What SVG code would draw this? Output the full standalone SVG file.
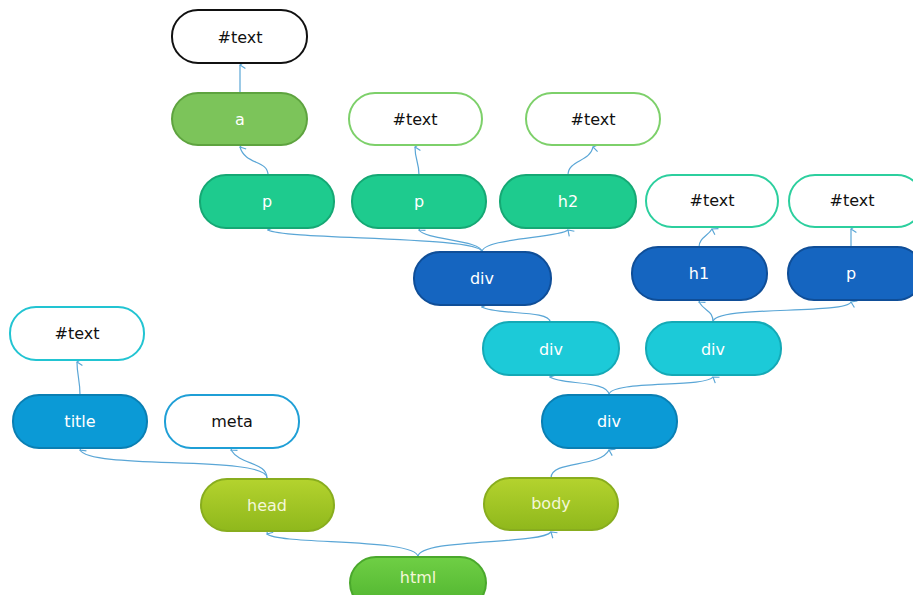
<svg xmlns="http://www.w3.org/2000/svg" width="913" height="595" viewBox="0 0 913 595">
<defs>
<marker id="arr" viewBox="0 0 10 10" refX="5" refY="1" markerWidth="9" markerHeight="9" orient="auto-start-reverse" markerUnits="userSpaceOnUse">
<path d="M1,7 L5,1 L9,7" fill="none" stroke="#5aa6d6" stroke-width="1.3"/>
</marker>
<linearGradient id="gYel" x1="0" y1="0" x2="0" y2="1">
<stop offset="0" stop-color="#b4d32e"/><stop offset="1" stop-color="#8fb81c"/>
</linearGradient>
<linearGradient id="gGrn" x1="0" y1="0" x2="0" y2="1">
<stop offset="0" stop-color="#6fcf45"/><stop offset="1" stop-color="#4fb32e"/>
</linearGradient>
</defs>
<style>
.n{stroke-width:2}
.t{font-family:"DejaVu Sans","Liberation Sans",sans-serif;font-size:16px;text-anchor:middle;dominant-baseline:central}
.w{fill:#ffffff}
.k{fill:#111111}
.y{fill:#f4f7d8}
#edges path{fill:none;stroke:#5aa6d6;stroke-width:1.2;marker-end:url(#arr)}
</style>
<g id="edges">
<path d="M418,557 C418,538 280,545 267,534"/>
<path d="M418,557 C418,538 540,545 551,532"/>
<path d="M267,478 C267,455 90,470 80,450"/>
<path d="M267,478 C267,462 240,465 231,450"/>
<path d="M80,395 C80,380 77,375 77,362"/>
<path d="M551,478 C551,460 600,468 609,450"/>
<path d="M609,395 C609,380 560,385 550,377"/>
<path d="M609,395 C609,380 705,388 713,377"/>
<path d="M550,322 C550,310 495,315 482,307"/>
<path d="M713,322 C713,310 705,312 699,302"/>
<path d="M713,322 C713,305 845,315 851,302"/>
<path d="M699,247 C699,238 708,236 712,229"/>
<path d="M851,247 C851,238 851,236 851,229"/>
<path d="M482,252 C482,236 285,240 268,230"/>
<path d="M482,252 C482,240 425,240 419,230"/>
<path d="M482,252 C482,238 560,238 568,230"/>
<path d="M268,175 C268,160 245,165 240,147"/>
<path d="M419,175 C419,162 415,160 415,147"/>
<path d="M568,175 C568,160 590,162 593,147"/>
<path d="M240,93 C240,80 240,78 240,65"/>
</g>
<g id="n-html"><rect class="n" x="350" y="557" width="136" height="52" rx="26" fill="url(#gGrn)" stroke="#4aa82c"/><text class="t y" x="418" y="577">html</text></g>
<g id="n-head"><rect class="n" x="201" y="479" width="133" height="52" rx="26" fill="url(#gYel)" stroke="#88ad1e"/><text class="t y" x="267" y="505">head</text></g>
<g id="n-body"><rect class="n" x="484" y="478" width="134" height="52" rx="26" fill="url(#gYel)" stroke="#88ad1e"/><text class="t y" x="551" y="503">body</text></g>
<g id="n-title"><rect class="n" x="13" y="395" width="134" height="53" rx="26" fill="#0b9ad6" stroke="#0a7fb3"/><text class="t w" x="80" y="421">title</text></g>
<g id="n-meta"><rect class="n" x="165" y="395" width="134" height="53" rx="26" fill="#ffffff" stroke="#1f9fd6"/><text class="t k" x="232" y="421">meta</text></g>
<g id="n-text-title"><rect class="n" x="10" y="307" width="134" height="53" rx="26" fill="#ffffff" stroke="#22c4d2"/><text class="t k" x="77" y="333">#text</text></g>
<g id="n-div1"><rect class="n" x="542" y="395" width="135" height="53" rx="26" fill="#0b9ad6" stroke="#0a7fb3"/><text class="t w" x="609" y="421">div</text></g>
<g id="n-div2"><rect class="n" x="483" y="322" width="136" height="53" rx="26" fill="#1ccad8" stroke="#14a9b6"/><text class="t w" x="551" y="349">div</text></g>
<g id="n-div3"><rect class="n" x="646" y="322" width="135" height="53" rx="26" fill="#1ccad8" stroke="#14a9b6"/><text class="t w" x="713" y="349">div</text></g>
<g id="n-div4"><rect class="n" x="414" y="252" width="137" height="53" rx="26" fill="#1565c0" stroke="#0f4e98"/><text class="t w" x="482" y="278">div</text></g>
<g id="n-h1"><rect class="n" x="632" y="247" width="135" height="53" rx="26" fill="#1565c0" stroke="#0f4e98"/><text class="t w" x="699" y="273">h1</text></g>
<g id="n-p3"><rect class="n" x="788" y="247" width="135" height="53" rx="26" fill="#1565c0" stroke="#0f4e98"/><text class="t w" x="851" y="273">p</text></g>
<g id="n-text-h1"><rect class="n" x="646" y="175" width="132" height="52" rx="26" fill="#ffffff" stroke="#2ccf9e"/><text class="t k" x="712" y="200">#text</text></g>
<g id="n-text-p3"><rect class="n" x="789" y="175" width="134" height="52" rx="26" fill="#ffffff" stroke="#2ccf9e"/><text class="t k" x="852" y="200">#text</text></g>
<g id="n-p1"><rect class="n" x="200" y="175" width="134" height="53" rx="26" fill="#1ecb8e" stroke="#15a874"/><text class="t w" x="267" y="201">p</text></g>
<g id="n-p2"><rect class="n" x="352" y="175" width="134" height="53" rx="26" fill="#1ecb8e" stroke="#15a874"/><text class="t w" x="419" y="201">p</text></g>
<g id="n-h2"><rect class="n" x="500" y="175" width="136" height="53" rx="26" fill="#1ecb8e" stroke="#15a874"/><text class="t w" x="568" y="201">h2</text></g>
<g id="n-a"><rect class="n" x="172" y="93" width="135" height="52" rx="26" fill="#7cc45a" stroke="#5ea33f"/><text class="t w" x="240" y="119">a</text></g>
<g id="n-text-p2"><rect class="n" x="349" y="93" width="133" height="52" rx="26" fill="#ffffff" stroke="#7dd06a"/><text class="t k" x="415" y="119">#text</text></g>
<g id="n-text-h2"><rect class="n" x="526" y="93" width="134" height="52" rx="26" fill="#ffffff" stroke="#7dd06a"/><text class="t k" x="593" y="119">#text</text></g>
<g id="n-text-a"><rect class="n" x="172" y="10" width="135" height="53" rx="26" fill="#ffffff" stroke="#111111"/><text class="t k" x="240" y="37">#text</text></g>
</svg>
